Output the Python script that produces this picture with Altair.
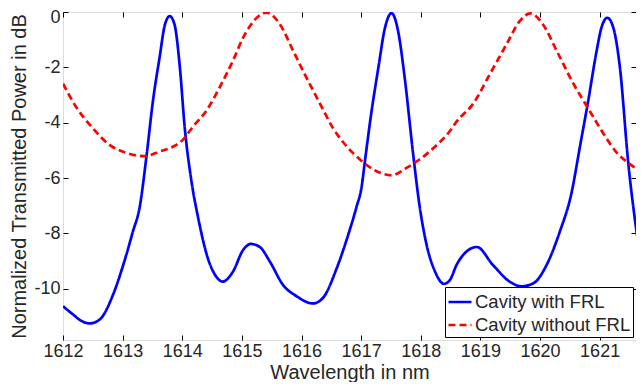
import altair as alt
import pandas as pd

# ---- data ----
wl_frl = [1612.00, 1612.17, 1612.30, 1612.45, 1612.62, 1612.84, 1613.01, 1613.17, 1613.29, 1613.40,
          1613.51, 1613.62, 1613.71, 1613.79, 1613.87, 1613.96, 1614.04, 1614.15, 1614.27, 1614.43,
          1614.57, 1614.68, 1614.85, 1615.02, 1615.15, 1615.30, 1615.47, 1615.69, 1615.92, 1616.19,
          1616.36, 1616.59, 1616.78, 1616.92, 1617.01, 1617.06, 1617.17, 1617.29, 1617.40, 1617.51,
          1617.62, 1617.73, 1617.87, 1617.98, 1618.10, 1618.24, 1618.39, 1618.49, 1618.60, 1618.77,
          1618.94, 1619.21, 1619.49, 1619.69, 1619.89, 1620.11, 1620.33, 1620.53, 1620.67, 1620.81,
          1620.95, 1621.03, 1621.13, 1621.23, 1621.34, 1621.48, 1621.62, 1621.73]
db_frl = [-10.63, -10.93, -11.15, -11.25, -11.10, -10.21, -9.14, -7.95, -7.00, -5.21,
          -3.19, -1.64, -0.45, -0.15, -0.45, -2.00, -4.14, -6.05, -7.47, -8.90,
          -9.56, -9.74, -9.38, -8.60, -8.38, -8.49, -9.02, -9.86, -10.27, -10.53,
          -10.33, -9.26, -8.07, -7.06, -6.29, -5.45, -3.66, -2.00, -0.57, -0.04,
          -0.69, -2.36, -5.09, -7.00, -8.43, -9.38, -9.82, -9.68, -9.14, -8.65,
          -8.49, -9.14, -9.74, -9.91, -9.80, -9.14, -7.95, -6.52, -4.86, -3.19,
          -1.40, -0.57, -0.21, -0.57, -2.00, -5.45, -7.95, -9.50]

wl_nofrl = [1612.00, 1612.22, 1612.50, 1612.78, 1613.06, 1613.37, 1613.62, 1613.85, 1614.01, 1614.18,
            1614.41, 1614.63, 1614.85, 1615.02, 1615.25, 1615.41, 1615.64, 1615.86, 1616.08, 1616.31,
            1616.53, 1616.76, 1616.98, 1617.26, 1617.51, 1617.76, 1617.98, 1618.27, 1618.49, 1618.60,
            1618.88, 1619.16, 1619.44, 1619.66, 1619.84, 1620.05, 1620.28, 1620.56, 1620.81, 1621.06,
            1621.29, 1621.48, 1621.73]
db_nofrl = [-2.59, -3.43, -4.20, -4.80, -5.09, -5.21, -5.04, -4.86, -4.62, -4.14,
            -3.55, -2.71, -1.76, -0.93, -0.21, -0.02, -0.45, -1.40, -2.36, -3.31,
            -4.20, -4.86, -5.33, -5.75, -5.90, -5.63, -5.33, -4.80, -4.30, -3.96,
            -3.31, -2.24, -1.16, -0.33, -0.05, -0.45, -1.40, -2.59, -3.49, -4.38,
            -5.09, -5.45, -5.81]

series_names = ["Cavity with FRL", "Cavity without FRL"]
x_ticks = [1612, 1613, 1614, 1615, 1616, 1617, 1618, 1619, 1620, 1621]
y_ticks = [-10, -8, -6, -4, -2, 0]
x_domain = [1612, 1621.61]
y_domain = [-11.85, 0]

df = pd.concat([
    pd.DataFrame({"wl": wl_frl, "db": db_frl, "series": series_names[0]}),
    pd.DataFrame({"wl": wl_nofrl, "db": db_nofrl, "series": series_names[1]}),
], ignore_index=True)

TXT = "#262626"
FONT = "Liberation Sans"

xscale = alt.Scale(domain=x_domain, nice=False, zero=False)
yscale = alt.Scale(domain=y_domain, nice=False, zero=False)

x_axis_main = alt.Axis(orient="bottom", values=x_ticks, labelExpr="'' + datum.value",
                       offset=-5, tickSize=5, tickColor="black", domain=False, grid=False,
                       labelPadding=2, labelFontSize=18, labelColor=TXT, labelFont=FONT,
                       labelFlush=False, labelOverlap=False,
                       title="Wavelength in nm", titleFontSize=20, titleFontWeight="normal",
                       titleColor=TXT, titleFont=FONT, titlePadding=2)
y_axis_main = alt.Axis(orient="left", values=y_ticks, labelExpr="'' + datum.value",
                       offset=-5, tickSize=5, tickColor="black", domain=False, grid=False,
                       labelPadding=3, labelFontSize=18, labelColor=TXT, labelFont=FONT,
                       labelOffset={"condition": {"test": "datum.value == 0", "value": 5}, "value": 0},
                       title="Normalized Transmitted Power in dB", titleFontSize=20,
                       titleFontWeight="normal", titleColor=TXT, titleFont=FONT, titlePadding=4,
                       labelOverlap=False, labelBound=False, labelFlush=False)

legend_cfg = dict(title=None, orient="none", legendX=382, legendY=275,
                  symbolType="stroke", symbolSize=529, symbolStrokeWidth=2.5,
                  labelFontSize=18.5, labelColor=TXT, labelFont=FONT,
                  labelOffset=2, rowPadding=0, padding=2,
                  strokeColor="black", fillColor="white", cornerRadius=0)

lines = alt.Chart(df).mark_line(strokeWidth=2.7, interpolate="monotone", clip=True).encode(
    x=alt.X("wl:Q", scale=xscale, axis=x_axis_main),
    y=alt.Y("db:Q", scale=yscale, axis=y_axis_main),
    color=alt.Color("series:N",
                    scale=alt.Scale(domain=series_names, range=["#0000FF", "#FF0000"]),
                    legend=alt.Legend(**legend_cfg)),
    strokeDash=alt.StrokeDash("series:N",
                              scale=alt.Scale(domain=series_names, range=[[1, 0], [7, 4]]),
                              legend=alt.Legend(**legend_cfg)),
)

x_axis_top = alt.Axis(orient="top", values=x_ticks, offset=-5, tickSize=5, tickColor="black",
                      labels=False, domain=False, grid=False, title=None)
y_axis_right = alt.Axis(orient="right", values=y_ticks, offset=-5, tickSize=5, tickColor="black",
                        labels=False, domain=False, grid=False, title=None)

ticks_layer = alt.Chart(df).mark_line(opacity=0).encode(
    x=alt.X("wl:Q", scale=xscale, axis=x_axis_top),
    y=alt.Y("db:Q", scale=yscale, axis=y_axis_right),
    detail="series:N",
)

chart = alt.layer(lines, ticks_layer).resolve_axis(x="independent", y="independent").properties(
    width=573, height=328,
    autosize=alt.AutoSizeParams(type="none"),
    padding={"left": 55, "top": 4, "right": 0, "bottom": 42},
).configure_view(stroke="black", strokeWidth=1).configure(background="white")

chart.save("out.html", embed_options={"renderer": "svg", "actions": False})
